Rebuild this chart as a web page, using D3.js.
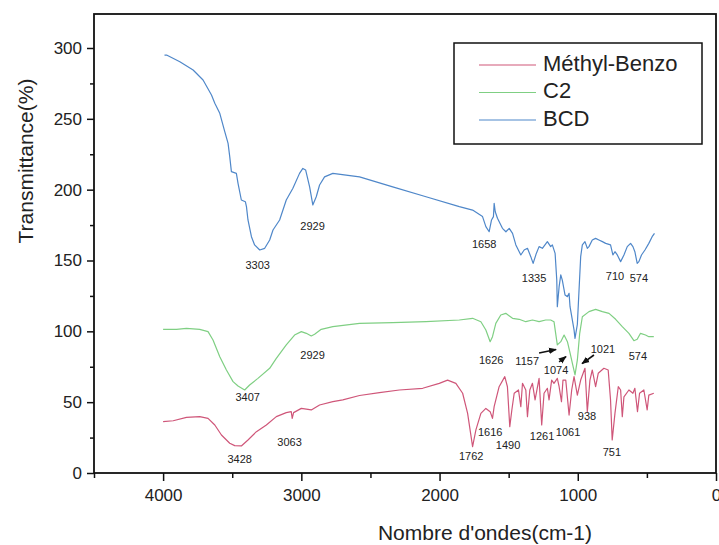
<!DOCTYPE html>
<html><head><meta charset="utf-8">
<script src="https://cdn.jsdelivr.net/npm/d3@7"></script>
<style>html,body{margin:0;padding:0;background:#fff;} text{font-family:"Liberation Sans",Arial,sans-serif;}</style>
</head><body>
<svg id="c" width="719" height="545"></svg>
<script>
// ---- data ----
const seriesNames = ["Méthyl-Benzo", "C2", "BCD"];
const xMajorTicks = [4000, 3000, 2000, 1000, 0];
const xMinorTicks = [4500, 3500, 2500, 1500, 500];
const yMajorTicks = [0, 50, 100, 150, 200, 250, 300];
const yMinorTicks = [25, 75, 125, 175, 225, 275];

const bcd = [[3990,295],[3975,295],[3879,290.3],[3783,284.5],[3711,277.4],[3650,266.8],[3626,261],[3590,253.9],[3554,241],[3530,232.7],[3518,223.3],[3506,212.7],[3470,211.5],[3458,204.5],[3434,192.7],[3405,191.5],[3397,188],[3386,178.6],[3361,166.8],[3338,161],[3301,157.4],[3265,158.6],[3229,164.5],[3205,171.5],[3157,178.6],[3109,192.7],[3061,201],[3013,211.5],[2989,215],[2969,213.9],[2940,202],[2917,189.2],[2892,195],[2868,203.3],[2832,209],[2772,211.5],[2676,210.3],[2579,209],[2339,202],[2098,195],[1857,188],[1761,185.6],[1689,181],[1665,173.9],[1641,170.3],[1624,178.6],[1610,181],[1605,190.4],[1597,184.4],[1581,179.8],[1545,172.7],[1520,170.3],[1496,172.7],[1472,169.2],[1448,161],[1412,153.9],[1388,157.4],[1364,158.6],[1340,152.7],[1323,148],[1300,155],[1280,159.8],[1256,158.6],[1220,163.3],[1196,159.8],[1184,161],[1164,155],[1152,136.2],[1148,117.4],[1135,131.5],[1123,139.8],[1112,136.2],[1092,125.6],[1075,124.5],[1063,126.8],[1056,117.4],[1027,101],[1020,95],[1003,105],[991,129],[979,152.7],[967,161],[948,163.3],[931,158.6],[919,159.8],[895,164.5],[871,165.6],[847,164.5],[822,163.3],[798,162.1],[763,161],[746,153.9],[731,156.2],[714,153.9],[690,149.2],[666,153.9],[642,159.8],[618,162.1],[601,159.8],[587,156.2],[570,148],[558,149.2],[539,153.9],[514,157.4],[486,162.1],[462,166.8],[445,169.2]];

const c2 = [[4000,101.4],[3903,101.4],[3831,102.1],[3735,101.4],[3675,99.8],[3639,93.9],[3590,82.1],[3542,72.7],[3494,64.5],[3458,61.4],[3410,58.6],[3374,62.1],[3314,66.8],[3229,73.9],[3181,80.9],[3109,90.4],[3049,97.4],[3000,99.8],[2964,98.6],[2928,96.7],[2904,97.9],[2856,101.4],[2772,103.3],[2579,105.6],[2339,106.1],[2098,106.8],[1857,108],[1761,109.2],[1701,106.8],[1665,100.9],[1634,92.7],[1617,96.2],[1593,105.6],[1557,111.5],[1521,112.7],[1472,109.2],[1424,108.5],[1376,106.8],[1328,108],[1280,106.8],[1232,108],[1196,108],[1172,106.8],[1160,98.6],[1148,90.4],[1123,92.7],[1099,97.4],[1075,92.7],[1058,85.6],[1039,77.4],[1020,69.2],[1003,79.8],[986,98.6],[967,110.3],[919,113.9],[871,115.5],[822,113.9],[774,112.7],[726,108.5],[678,103.3],[630,98.6],[594,93.4],[570,94.4],[546,98.6],[510,97.4],[486,96.2],[450,96.2]];

const mb = [[4000,36.2],[3927,36.9],[3831,39.3],[3735,39.8],[3675,38.6],[3626,33.9],[3578,26.8],[3518,21],[3482,19.3],[3434,19.1],[3386,23.3],[3325,29.2],[3253,33.9],[3181,39.8],[3109,42.6],[3073,43.3],[3066,38.6],[3056,42.6],[3000,45.6],[2928,44.5],[2868,48],[2772,50.4],[2700,51.6],[2579,54.7],[2435,56.7],[2291,58.6],[2122,59.8],[2002,63.3],[1942,65.6],[1882,63.3],[1833,56.3],[1797,42.1],[1761,18.6],[1737,30.4],[1701,42.1],[1665,45.6],[1634,43.3],[1617,38.6],[1605,46.8],[1569,60.9],[1528,68],[1509,60.9],[1492,32.7],[1477,44.5],[1460,56.3],[1429,58.6],[1412,46.8],[1400,63.3],[1376,58.6],[1364,39.8],[1347,58.6],[1328,63.3],[1309,51.6],[1280,66.8],[1261,33.9],[1244,56.3],[1220,59.8],[1208,51.6],[1189,65.6],[1172,63.3],[1148,66.8],[1135,60.9],[1118,50.4],[1107,65.6],[1087,65.6],[1063,40.9],[1044,58.6],[1027,68],[1003,55],[979,65.6],[948,73.9],[931,43.3],[912,65.6],[895,72.7],[871,60.9],[852,70.4],[811,73.9],[780,72.7],[763,51.6],[751,23.3],[731,42.1],[707,60.9],[690,58.6],[678,39.8],[666,53.8],[630,58.6],[601,56.3],[587,59.8],[568,43.3],[553,56.3],[522,58.6],[498,44.5],[486,55],[450,56.3]];

// peak labels: [text, wavenumber position, transmittance position]
const peakLabels = [
  ["3303",3316,146.1],["2929",2919,173.6],["1658",1677,160.9],["1335",1316,136.9],["710",731,138.4],["574",558,136.9],
  ["3407",3388,52.9],["2929",2919,82.6],["1626",1626,79.1],["1157",1366,78.4],["1074",1157,72],["1021",818,86.8],["574",565,81.9],
  ["3428",3446,9.2],["3063",3085,21.2],["1762",1771,11.3],["1616",1634,28.2],["1490",1504,19.1],["1261",1258,25.4],["1061",1070,28.2],["938",933,39.5],["751",753,14.1]
];
// arrows: [fromWn, fromT, toWn, toT]
const arrows = [[1280,84.7,1157,87.2],[1135,78.4,1085,82.2],[883,83.3,969,77.2]];

// ---- drawing ----
const W = 719, H = 545;
const L = 94, R = 716, T = 14, B = 473;
const svg = d3.select("#c");
const x = d3.scaleLinear().domain([4500, 0]).range([L, R]);
const y = d3.scaleLinear().domain([0, 324]).range([B, T]);
const colors = {"Méthyl-Benzo":"#cf5679","C2":"#7fcf83","BCD":"#4f87c9"};
const dataMap = {"Méthyl-Benzo":mb,"C2":c2,"BCD":bcd};

const line = d3.line().x(d => x(d[0])).y(d => y(d[1]));
seriesNames.forEach(n => {
  svg.append("path").datum(dataMap[n]).attr("d", line)
    .attr("fill","none").attr("stroke",colors[n]).attr("stroke-width",1.2).attr("stroke-linejoin","round");
});

// frame
svg.append("rect").attr("x",L).attr("y",T).attr("width",R-L).attr("height",B-T)
  .attr("fill","none").attr("stroke","#111").attr("stroke-width",1.8);

// axes
const gx = svg.append("g").attr("transform",`translate(0,${B})`);
gx.call(d3.axisBottom(x).tickValues(xMajorTicks).tickSize(8).tickPadding(8).tickFormat(d3.format("d")));
const gxm = svg.append("g").attr("transform",`translate(0,${B})`);
gxm.call(d3.axisBottom(x).tickValues(xMinorTicks).tickSize(5).tickFormat(""));
const gy = svg.append("g").attr("transform",`translate(${L},0)`);
gy.call(d3.axisLeft(y).tickValues(yMajorTicks).tickSize(7).tickPadding(5).tickFormat(d3.format("d")));
const gym = svg.append("g").attr("transform",`translate(${L},0)`);
gym.call(d3.axisLeft(y).tickValues(yMinorTicks).tickSize(4).tickFormat(""));
[gx,gxm,gy,gym].forEach(g => {
  g.select(".domain").remove();
  g.selectAll("line").attr("stroke","#111").attr("stroke-width",1.5);
  g.selectAll("text").attr("fill","#222").style("font-size","17px").style("font-family","Liberation Sans, Arial, sans-serif");
});

// axis titles
svg.append("text").attr("x",485).attr("y",540).attr("text-anchor","middle")
  .style("font-size","21px").attr("fill","#222").text("Nombre d'ondes(cm-1)");
svg.append("text").attr("transform","translate(33,161) rotate(-90)").attr("text-anchor","middle")
  .style("font-size","21px").attr("fill","#222").text("Transmittance(%)");

// peak labels
svg.append("g").selectAll("text").data(peakLabels).join("text")
  .attr("x", d => x(d[1])).attr("y", d => y(d[2])).attr("text-anchor","middle").attr("dominant-baseline","middle")
  .style("font-size","11px").attr("fill","#222").text(d => d[0]);

// arrows
const defs = svg.append("defs");
defs.append("marker").attr("id","ah").attr("viewBox","0 0 10 10").attr("refX",9).attr("refY",5)
  .attr("markerWidth",5).attr("markerHeight",5).attr("orient","auto")
  .append("path").attr("d","M0,1 L10,5 L0,9 Z").attr("fill","#111");
svg.append("g").selectAll("line").data(arrows).join("line")
  .attr("x1", d => x(d[0])).attr("y1", d => y(d[1])).attr("x2", d => x(d[2])).attr("y2", d => y(d[3]))
  .attr("stroke","#111").attr("stroke-width",1.6).attr("marker-end","url(#ah)");

// legend
const lg = svg.append("g");
lg.append("rect").attr("x",454).attr("y",43).attr("width",248).attr("height",101)
  .attr("fill","#fff").attr("stroke","#111").attr("stroke-width",1.5);
seriesNames.forEach((n,i) => {
  const cy = 65 + i*27.5;
  lg.append("line").attr("x1",479).attr("x2",536).attr("y1",cy).attr("y2",cy)
    .attr("stroke",colors[n]).attr("stroke-width",1.2);
  lg.append("text").attr("x",543).attr("y",cy).attr("dominant-baseline","middle")
    .style("font-size","22px").attr("fill","#222").text(n);
});
</script>
</body></html>
